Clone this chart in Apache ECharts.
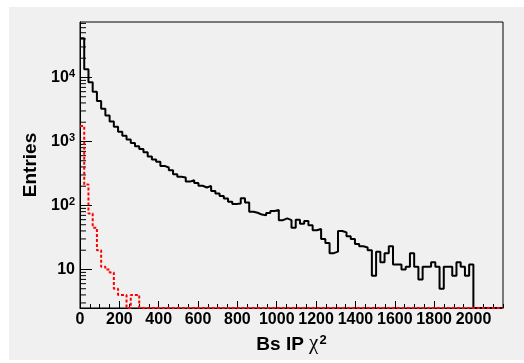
<!DOCTYPE html>
<html><head><meta charset="utf-8">
<script src="https://cdn.jsdelivr.net/npm/echarts@6/dist/echarts.min.js"></script>
<style>
html,body{margin:0;padding:0;background:#fff;}
#pad{position:absolute;left:9px;top:7px;width:515px;height:353px;background:#f0f0f0;}
#c{position:absolute;left:0;top:0;width:524px;height:363px;}
</style>
</head><body>
<div id="pad"></div>
<div id="c"></div>
<script>
// ---- histogram definition ----
const X_MIN = 0, X_MAX = 2150, N_BINS = 100;
const Y_MIN = 2.5, Y_MAX = 73600;
const X_MAJOR = 200, X_MINOR = 50;

// black histogram (solid), entries per bin
const blackCounts = [
  41000, 13500, 8400, 6000, 4300, 3250, 2550, 2050, 1700, 1420,
  1230, 1070, 950, 840, 760, 680, 580, 525, 480, 415,
  392, 356, 308, 282, 274, 236, 248, 225, 203, 191,
  202, 169, 154, 141, 129, 114, 105, 107, 130, 111,
  80, 77, 72, 70, 76, 82, 85, 59, 63, 59,
  45, 60, 52, 57, 49, 41, 43, 30, 26, 18,
  19, 40, 38, 33, 30, 25, 23, 22, 20, 8,
  19, 13, 18, 23, 12, 12, 10, 11, 18, 11,
  7, 11, 11, 13, 11, 5, 11, 11, 8, 13,
  11, 8, 12, 0, 0, 0, 0, 0, 0, 0
];
// red histogram (dotted), entries per bin
const redCounts = [
  1750, 213, 75, 45, 20, 11, 10, 9, 5, 4,
  4, 0, 4, 4, 0, 0, 0, 0, 0, 0,
  0, 0, 0, 0, 0, 0, 0, 0, 0, 0,
  0, 0, 0, 0, 0, 0, 0, 0, 0, 0,
  0, 0, 0, 0, 0, 0, 0, 0, 0, 0,
  0, 0, 0, 0, 0, 0, 0, 0, 0, 0,
  0, 0, 0, 0, 0, 0, 0, 0, 0, 0,
  0, 0, 0, 0, 0, 0, 0, 0, 0, 0,
  0, 0, 0, 0, 0, 0, 0, 0, 0, 0,
  0, 0, 0, 0, 0, 0, 0, 0, 0, 0
];
// minor log ticks (2..9 x 10^n within range)
const yMinorTicks = [3,4,5,6,7,8,9, 20,30,40,50,60,70,80,90,
  200,300,400,500,600,700,800,900, 2000,3000,4000,5000,6000,7000,8000,9000,
  20000,30000,40000,50000,60000,70000];
const yTitle = 'Entries';
const xTitleParts = ['Bs IP ', 'χ', '2'];

const FONT = '"Liberation Sans", Arial, Helvetica, sans-serif';
const binW = (X_MAX - X_MIN) / N_BINS;
function toSteps(counts) {
  // zero bins are drawn on the axis minimum, like ROOT does on a log scale
  const pts = counts.map((c, i) => [X_MIN + i * binW, c > 0 ? c : Y_MIN]);
  pts.push([X_MAX, pts[pts.length - 1][1]]);
  return pts;
}

const chart = echarts.init(document.getElementById('c'), null, {renderer: 'canvas'});
chart.setOption({
  animation: false,
  backgroundColor: 'transparent',
  grid: {left: 80, right: 21, top: 22, bottom: 55, show: true,
         backgroundColor: '#f0f0f0', borderColor: '#000', borderWidth: 1},
  xAxis: [{
    type: 'value', min: X_MIN, max: X_MAX, interval: X_MAJOR, position: 'bottom',
    axisLine: {show: true, onZero: false, lineStyle: {color: '#000', width: 1}},
    axisTick: {show: true, inside: true, length: 7, lineStyle: {color: '#000', width: 1}},
    axisLabel: {show: true, showMaxLabel: false, color: '#000', fontFamily: FONT,
                fontWeight: 'bold', fontSize: 16, margin: 4, hideOverlap: false,
                formatter: function (v) { return String(Math.round(v)); }},
    splitLine: {show: false},
    name: '{b|' + xTitleParts[0] + '}{g|' + xTitleParts[1] + '}{s|' + xTitleParts[2] + '}',
    nameLocation: 'middle', nameGap: 26,
    nameTextStyle: {rich: {
      b: {fontFamily: FONT, fontWeight: 'bold', fontSize: 19, lineHeight: 19, color: '#000', verticalAlign: 'bottom'},
      g: {fontFamily: '"Liberation Serif", "DejaVu Serif", serif', fontSize: 21, lineHeight: 19, color: '#000', verticalAlign: 'bottom'},
      s: {fontFamily: FONT, fontWeight: 'bold', fontSize: 13, lineHeight: 13, padding: [0,0,7,1], color: '#000', verticalAlign: 'bottom'}
    }}
  }, {
    type: 'value', min: X_MIN, max: X_MAX, interval: X_MINOR, position: 'bottom',
    axisLine: {show: false},
    axisTick: {show: true, inside: true, length: 4, lineStyle: {color: '#000', width: 1}},
    axisLabel: {show: false}, splitLine: {show: false}
  }],
  yAxis: [{
    type: 'log', logBase: 10, min: Y_MIN, max: Y_MAX,
    axisLine: {show: true, lineStyle: {color: '#000', width: 1}},
    axisTick: {show: true, inside: true, length: 12, lineStyle: {color: '#000', width: 1}},
    axisLabel: {show: true, showMinLabel: false, showMaxLabel: false, margin: 5,
      formatter: function (v) {
        const e = Math.round(Math.log10(v));
        if (e === 1) return '{b|10}';
        return '{b|10}{s|' + e + '}';
      },
      rich: {
        b: {fontFamily: FONT, fontWeight: 'bold', fontSize: 16, lineHeight: 16, color: '#000', verticalAlign: 'bottom'},
        s: {fontFamily: FONT, fontWeight: 'bold', fontSize: 11, lineHeight: 11, padding: [0,0,6,0], color: '#000', verticalAlign: 'bottom'}
      }
    },
    splitLine: {show: false},
    name: yTitle, nameLocation: 'middle', nameRotate: 90, nameGap: 36,
    nameTextStyle: {fontFamily: FONT, fontWeight: 'bold', fontSize: 19, color: '#000'}
  }],
  series: [{
    type: 'line', step: 'end', symbol: 'none', clip: false,
    data: toSteps(blackCounts),
    lineStyle: {color: '#000', width: 2}
  }, {
    type: 'line', step: 'end', symbol: 'none', clip: false,
    data: toSteps(redCounts),
    lineStyle: {color: '#ff0000', width: 2, type: [3, 2]}
  }, {
    type: 'custom', silent: true, clip: false,
    data: yMinorTicks.map(v => [X_MIN, v]),
    renderItem: function (params, api) {
      const p = api.coord([api.value(0), api.value(1)]);
      return {type: 'line', shape: {x1: p[0], y1: p[1], x2: p[0] + 6, y2: p[1]},
              style: {stroke: '#000', lineWidth: 1}};
    }
  }]
});
</script>
</body></html>
